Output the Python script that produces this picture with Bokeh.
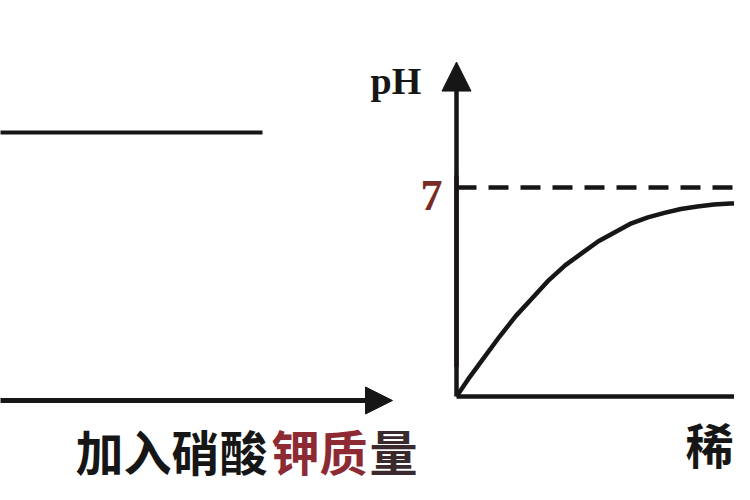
from bokeh.plotting import figure
from bokeh.models import Range1d, Arrow, NormalHead
from bokeh.core.properties import value
from bokeh.embed import file_html
from bokeh.resources import INLINE

# ---------------- data ----------------
# left panel: mass fraction stays constant while potassium nitrate is added
kno3_added = [0, 11.8]
mass_fraction = [26.8, 26.8]
left_axis_end = 17

# right panel: pH of a diluted acid approaching 7
water_added = [0, 0.4, 0.8, 1.3, 1.8, 2.3, 2.8, 3.3, 3.8, 4.3, 4.8,
               5.3, 5.8, 6.3, 6.8, 7.3, 7.8, 8.3, 8.8]
ph_values = [0, 0.65, 1.25, 2.0, 2.7, 3.3, 3.9, 4.4, 4.8, 5.2, 5.5,
             5.8, 6.0, 6.15, 6.28, 6.36, 6.43, 6.46, 6.47]
neutral_ph = 7
ph_axis_top = 11.2
water_axis_end = 9.5

left_label_parts = ["加入硝酸", "钾质", "量"]
right_label = "稀"
y_label = "pH"
tick_label = "7"

INK = "#161616"
RED = "#8e2a33"

# ---------------- layout (pixel geometry of the frame) ----------------
W, H = 734, 484
rx0, rsx = 456, 33.0      # right origin x (px), px per unit
ry0, rsy = 88, 29.86      # right origin height above bottom (px), px per pH
lx0, lsx = -33, 25.0
ly0, lsy = 84, 10.0

p = figure(width=W, height=H, output_backend="svg", toolbar_location=None,
           x_range=Range1d(-rx0 / rsx, (W - rx0) / rsx),
           y_range=Range1d(-ry0 / rsy, (H - ry0) / rsy),
           x_axis_location=None, y_axis_location=None,
           min_border=0, outline_line_color=None,
           background_fill_color="white", border_fill_color="white")
p.grid.visible = False
p.extra_x_ranges = {"lx": Range1d(-lx0 / lsx, (W - lx0) / lsx)}
p.extra_y_ranges = {"ly": Range1d(-ly0 / lsy, (H - ly0) / lsy)}

# ---------- left panel ----------
p.line(kno3_added, mass_fraction, x_range_name="lx", y_range_name="ly",
       line_color=INK, line_width=4)
p.add_layout(Arrow(x_start=kno3_added[0], y_start=0, x_end=left_axis_end, y_end=0,
                   x_range_name="lx", y_range_name="ly",
                   line_color=INK, line_width=5,
                   end=NormalHead(size=27, fill_color=INK, line_color=INK, line_width=1)))

char_px = 49
start_px = 75 + 33
xs, cols = [], []
pos = start_px
for part, col in zip(left_label_parts, [INK, RED, "#3a2a2e"]):
    xs.append(pos / lsx)
    cols.append(col)
    pos += len(part) * char_px
p.text(x=xs, y=[-4.9] * len(xs), text=left_label_parts, text_color=cols,
       x_range_name="lx", y_range_name="ly",
       text_font=value("Noto Sans CJK SC"), text_font_style="bold",
       text_font_size="48px", text_align="left", text_baseline="middle")

# ---------- right panel ----------
p.line([0, water_axis_end], [neutral_ph, neutral_ph], line_color=INK, line_width=4.5,
       line_dash="20 12")
p.line([0, water_axis_end], [0, 0], line_color=INK, line_width=4.5)
p.add_layout(Arrow(x_start=0, y_start=0, x_end=0, y_end=ph_axis_top,
                   line_color=INK, line_width=4.5,
                   end=NormalHead(size=29, fill_color=INK, line_color=INK, line_width=1)))
p.line([0, 0], [1.0, neutral_ph + 0.4], line_color="#4e1826", line_width=4.5)
p.line(water_added, ph_values, line_color=INK, line_width=4.5, line_join="round")

p.text(x=[-14 / rsx], y=[neutral_ph - 0.27], text=[tick_label], text_color="#7a2a24",
       text_font=value("Liberation Serif"), text_font_style="bold",
       text_font_size="44px", text_align="right", text_baseline="middle")
p.text(x=[-86 / rsx], y=[10.58], text=[y_label], text_color=INK,
       text_font=value("Liberation Serif"), text_font_style="bold",
       text_font_size="38px", text_align="left", text_baseline="alphabetic")
p.text(x=[253 / rsx], y=[-1.57], text=[right_label], text_color=INK,
       text_font=value("Noto Sans CJK SC"), text_font_style="bold",
       text_font_size="48px", text_align="center", text_baseline="middle")

open("out.html", "w").write(file_html(p, INLINE))
